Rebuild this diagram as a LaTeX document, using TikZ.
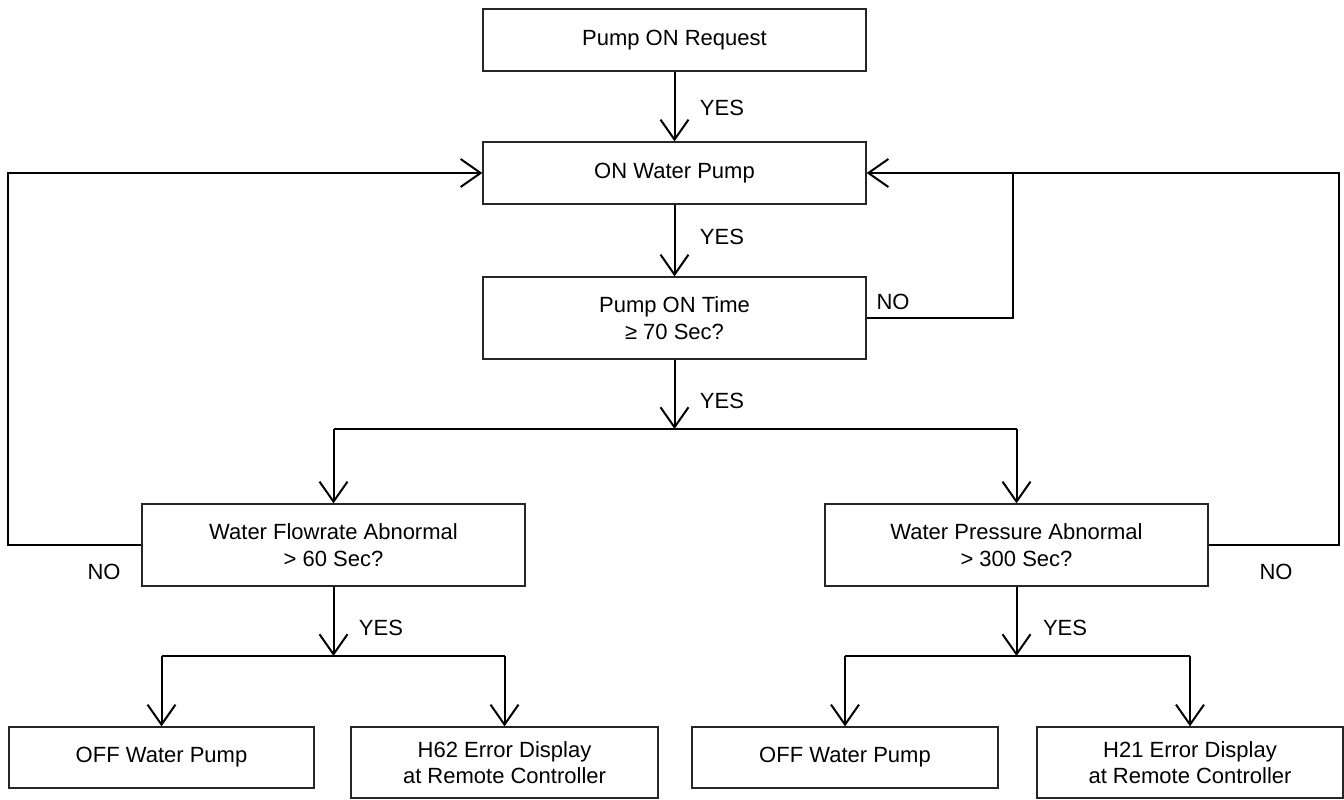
\documentclass[tikz,border=0pt]{standalone}
\usepackage{fontspec}
\setmainfont{Liberation Sans}
\usetikzlibrary{arrows.meta}
\begin{document}
\begin{tikzpicture}[x=1pt,y=-1pt,
  box/.style={draw=black!85, line width=1.3pt, fill=white, align=center, inner sep=0pt,
    font=\fontsize{22}{26.5}\selectfont},
  lbl/.style={font=\fontsize{22}{24}\selectfont, inner sep=0pt},
  conn/.style={line width=2pt},
  arr/.style={conn, -{Straight Barb[length=20pt,width=28pt,line width=2pt]}}]
\useasboundingbox (0,0) rectangle (1344,800);
% nodes
\node[box, minimum width=383pt, minimum height=62pt] (req) at (674.5,40) {Pump ON Request};
\node[box, minimum width=383pt, minimum height=62pt] (onp) at (674.5,173) {ON Water Pump};
\node[box, minimum width=383pt, minimum height=82pt] (time) at (674.5,318) {Pump ON Time\\≥ 70 Sec?};
\node[box, minimum width=383pt, minimum height=82pt] (flow) at (333.5,545) {Water Flowrate Abnormal\\> 60 Sec?};
\node[box, minimum width=383pt, minimum height=82pt] (pres) at (1016.5,545) {Water Pressure Abnormal\\> 300 Sec?};
\node[box, minimum width=305pt, minimum height=61pt] (off1) at (161.5,757.5) {OFF Water Pump};
\node[box, minimum width=307pt, minimum height=71pt] (h62) at (504.5,762.5) {H62 Error Display\\at Remote Controller};
\node[box, minimum width=306pt, minimum height=61pt] (off2) at (845,757.5) {OFF Water Pump};
\node[box, minimum width=306pt, minimum height=71pt] (h21) at (1190,762.5) {H21 Error Display\\at Remote Controller};
% junction coordinates
\coordinate (j1) at (674.5,429);
\coordinate (j1l) at (333.5,429);
\coordinate (j1r) at (1016.5,429);
\coordinate (j2) at (333.5,656);
\coordinate (j2l) at (161.5,656);
\coordinate (j2r) at (504.5,656);
\coordinate (j3) at (1016.5,656);
\coordinate (j3l) at (845,656);
\coordinate (j3r) at (1190,656);
\coordinate (m) at (1013,173);
\coordinate (lo) at (8,545);
\coordinate (lt) at (8,173);
\coordinate (ro) at (1339,545);
\coordinate (rt) at (1339,173);
% connectors
\draw[arr] (req.south) -- (onp.north);
\draw[arr] (onp.south) -- (time.north);
\draw[arr] (time.south) -- (j1);
\draw[conn] (j1l) -- (j1r);
\draw[arr] (j1l) -- (flow.north);
\draw[arr] (j1r) -- (pres.north);
\draw[arr] (flow.south) -- (j2);
\draw[conn] (j2l) -- (j2r);
\draw[arr] (j2l) -- (off1.north);
\draw[arr] (j2r) -- (h62.north);
\draw[arr] (pres.south) -- (j3);
\draw[conn] (j3l) -- (j3r);
\draw[arr] (j3l) -- (off2.north);
\draw[arr] (j3r) -- (h21.north);
\draw[arr] (time.east) -| (m) -- (onp.east);
\draw[arr] (flow.west) -- (lo) -- (lt) -- (onp.west);
\draw[conn] (pres.east) -- (ro) -- (rt) -- (m);
% labels
\node[lbl] (y1) at (722,108) {YES};
\node[lbl] (y2) at (722,237) {YES};
\node[lbl] (y3) at (722,401) {YES};
\node[lbl] (y4) at (381,628) {YES};
\node[lbl] (y5) at (1065,628) {YES};
\node[lbl] (n1) at (893,302) {NO};
\node[lbl] (n2) at (104,572) {NO};
\node[lbl] (n3) at (1276,572) {NO};
\end{tikzpicture}
\end{document}
